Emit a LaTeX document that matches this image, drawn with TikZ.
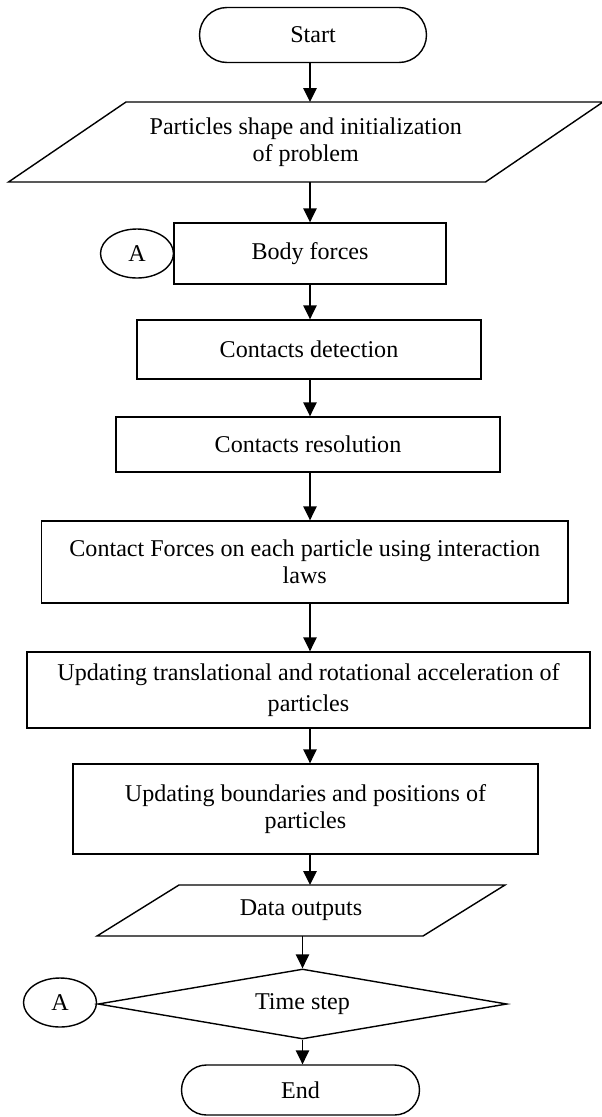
\documentclass[tikz,border=0pt]{standalone}
\usepackage{fontspec}
\setmainfont{Liberation Serif}
\usetikzlibrary{arrows.meta,shapes.geometric,shapes.misc}

\begin{document}
\begin{tikzpicture}[x=1cm,y=1cm,
  base/.style={draw=black,line width=.8pt,align=center,inner sep=2pt,font=\fontsize{13.7}{15.4}\selectfont},
  proc/.style={base,rectangle},
  term/.style={base,rounded rectangle},
  io/.style={base,rectangle,draw=none,outer sep=0pt},
  cond/.style={base,diamond,inner sep=0pt},
  conn/.style={base,ellipse,inner sep=0pt,minimum width=1.46cm,minimum height=.98cm},
  outline/.style={line width=.8pt,line join=miter},
  arr/.style={-{Triangle[length=.28cm,width=.27cm]},line width=.8pt}]
\useasboundingbox (0,0) rectangle (12.04,-22.34);
\coordinate (axis) at (6.2,0);

\node[term,minimum width=4.68cm,minimum height=1.1cm] (start) at(6.26,-.70) {Start};
\node[io,minimum width=9.54cm,minimum height=1.6cm] (init) at(6.115,-2.84) {Particles shape and initialization\\of problem};
\node[proc,minimum width=5.44cm,minimum height=1.22cm] (body) at(6.20,-5.07) {Body forces};
\node[conn] (a1) at(2.74,-5.07) {A};
\node[proc,minimum width=6.88cm,minimum height=1.18cm] (detect) at(6.18,-6.99) {Contacts detection};
\node[proc,minimum width=7.68cm,minimum height=1.10cm] (resol) at(6.16,-8.89) {Contacts resolution};
\node[proc,minimum width=10.53cm,minimum height=1.64cm] (forces) at(6.095,-11.24) {Contact Forces on each particle using interaction\\laws};
\node[proc,minimum width=11.26cm,minimum height=1.52cm] (accel) at(6.17,-13.80) {Updating translational and rotational acceleration of\\[2.5pt]particles};
\node[proc,minimum width=9.30cm,minimum height=1.80cm] (bound) at(6.11,-16.18) {Updating boundaries and positions of\\particles};
\node[io,minimum width=6.52cm,minimum height=1.02cm] (data) at(6.02,-18.21) {Data outputs};
\node[cond,aspect=5.84,minimum width=8.18cm,minimum height=1.40cm] (tstep) at(6.05,-20.08) {Time step};
\node[conn] (a2) at(1.20,-20.05) {A};
\node[term,minimum width=4.90cm,minimum height=1.0cm] (stop) at(6.01,-21.80) {End};

\draw[outline] ([xshift=1.175cm]init.north west) -- ([xshift=1.175cm]init.north east) -- ([xshift=-1.175cm]init.south east) -- ([xshift=-1.175cm]init.south west) -- cycle;
\draw[outline] ([xshift=.82cm]data.north west) -- ([xshift=.82cm]data.north east) -- ([xshift=-.82cm]data.south east) -- ([xshift=-.82cm]data.south west) -- cycle;

\draw[arr] (start.south -| axis) -- (init.north -| axis);
\draw[arr] (init.south -| axis) -- (body.north -| axis);
\draw[arr] (body.south -| axis) -- (detect.north -| axis);
\draw[arr] (detect.south -| axis) -- (resol.north -| axis);
\draw[arr] (resol.south -| axis) -- (forces.north -| axis);
\draw[arr] (forces.south -| axis) -- (accel.north -| axis);
\draw[arr] (accel.south -| axis) -- (bound.north -| axis);
\draw[arr] (bound.south -| axis) -- (data.north -| axis);
\draw[arr] (data.south -| tstep) -- (tstep.north);
\draw[arr] (tstep.south) -- (stop.north -| tstep);
\end{tikzpicture}
\end{document}
